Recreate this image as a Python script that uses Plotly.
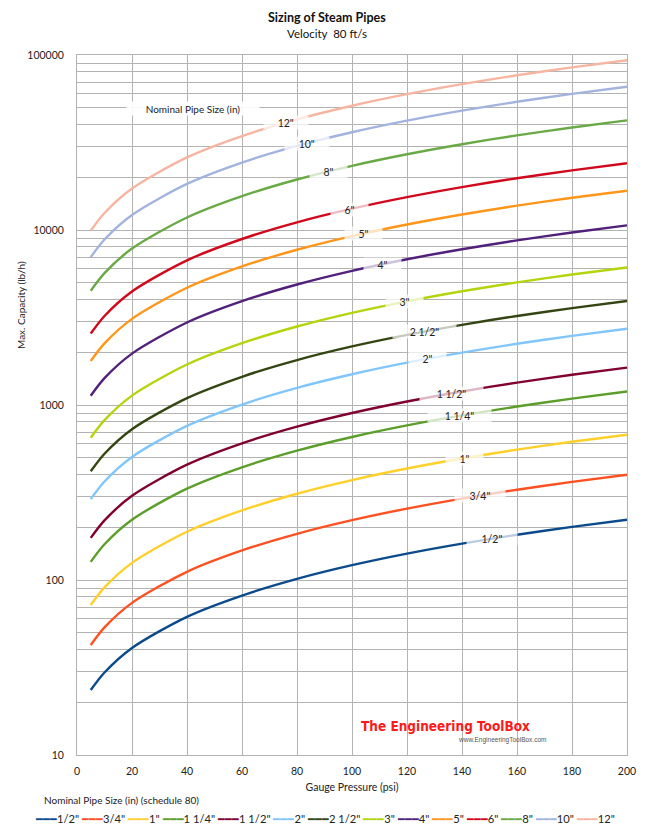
import numpy as np
import plotly.graph_objects as go

# ---------------- data ----------------
pressure = [5, 10, 20, 40, 60, 80, 100, 120, 140, 160, 180, 200]  # psi gauge

sizes = ['1/2"', '3/4"', '1"', '1 1/4"', '1 1/2"', '2"', '2 1/2"', '3"',
         '4"', '5"', '6"', '8"', '10"', '12"']

cap_half = [23.5, 29.6, 40.9, 61.6, 81.5, 101.5, 121.5, 141.5, 161.4, 181.4, 201.2, 220.9]
cap_3q = [42.5, 53.6, 74.0, 111.4, 147.5, 183.6, 219.7, 255.9, 292.0, 328.1, 363.8, 399.5]
cap_1 = [72, 90.7, 125.3, 188.6, 249.8, 311.0, 372.2, 433.4, 494.6, 555.8, 616.3, 676.8]
cap_1q = [127, 160, 221, 332.7, 440.7, 548.6, 656.6, 764.5, 872.5, 980.4, 1087, 1194]
cap_1h = [174, 219, 302.8, 455.9, 603.8, 751.7, 899.6, 1047, 1195, 1343, 1489, 1636]
cap_2 = [290, 365.4, 504.6, 759.8, 1006, 1253, 1499, 1746, 1992, 2239, 2482, 2726]
cap_2h = [418, 526.7, 727.3, 1095, 1450, 1806, 2161, 2516, 2872, 3227, 3578, 3929]
cap_3 = [650, 819, 1131, 1703, 2256, 2808, 3361, 3913, 4466, 5018, 5564, 6110]
cap_4 = [1130, 1424, 1966, 2961, 3921, 4882, 5842, 6803, 7763, 8724, 9673, 10622]
cap_5 = [1785, 2249, 3106, 4677, 6194, 7711, 9228, 10746, 12263, 13780, 15280, 16779]
cap_6 = [2560, 3226, 4454, 6707, 8883, 11059, 13235, 15411, 17587, 19763, 21914, 24064]
cap_8 = [4500, 5670, 7830, 11790, 15615, 19440, 23265, 27090, 30915, 34740, 38520, 42300]
cap_10 = [7000, 8820, 12180, 18340, 24290, 30240, 36190, 42140, 48090, 54040, 59920, 65800]
cap_12 = [9920, 12500, 17261, 25990, 34422, 42854, 51286, 59718, 68150, 76582, 84915, 93248]

capacities = [cap_half, cap_3q, cap_1, cap_1q, cap_1h, cap_2, cap_2h, cap_3,
              cap_4, cap_5, cap_6, cap_8, cap_10, cap_12]

# pressure at which the in-line size label sits
label_x = [151, 146.5, 141, 139, 136, 127.6, 126.5, 119, 111, 104, 99, 91.6, 83.6, 76]

colors = ['#0b4a8b', '#ff5022', '#ffcf2a', '#5b9e2a', '#800030', '#80c6fa',
          '#344512', '#b4d40e', '#50207a', '#ff961a', '#d0091d', '#6aaa46',
          '#a2b3de', '#f6b5a0']

FONT = 'Lato, Open Sans, sans-serif'
W, H = 647, 834
ML, MR, MT, MB = 77, 20, 55, 79


def px_x(x):
    return (x - ML) / (W - ML - MR)


def px_y(y):
    return (H - MB - y) / (H - MT - MB)


fig = go.Figure()
for name, cap, col in zip(sizes, capacities, colors):
    fig.add_trace(go.Scatter(x=pressure, y=cap, mode='lines', name=name,
                             line=dict(color=col, width=2.4, shape='spline',
                                       smoothing=0.8),
                             showlegend=False))

# in-line labels
for name, cap, lx in zip(sizes, capacities, label_x):
    ly = np.interp(lx, pressure, np.log10(cap))
    w = 24 + 6.5 * len(name)
    fig.add_annotation(x=lx, y=ly, xref='x', yref='y', text=name,
                       xanchor='center', yanchor='middle',
                       showarrow=False, bgcolor='rgba(255,255,255,0.72)',
                       width=w, height=13, borderpad=0,
                       font=dict(family=FONT, size=10.5, color='#222'))


def paper_text(x, y, text, size, color='#222', xanchor='center', **kw):
    fig.add_annotation(x=px_x(x), y=px_y(y), xref='paper', yref='paper',
                       xanchor=xanchor, yanchor='middle', text=text,
                       showarrow=False,
                       font=dict(family=kw.pop('family', FONT), size=size,
                                 color=color), **kw)


paper_text(193, 108, 'Nominal Pipe Size (in)', 10,
           bgcolor='rgba(255,255,255,0.9)', width=132, height=13, borderpad=0)

# titles
paper_text(W / 2 + 3, 17, '<b>Sizing of Steam Pipes</b>', 12.5, color='#111')
paper_text(W / 2 + 3, 33, 'Velocity  80 ft/s', 11.5, color='#111')

# y-axis title
paper_text(21, 305, 'Max. Capacity (lb/h)', 10, textangle=-90)

# custom legend
paper_text(42, 800, 'Nominal Pipe Size (in) (schedule 80)', 10, xanchor='left')
leg = ''.join(
    f"<span style='color:{c}'>━━━</span>{n} " for n, c in zip(sizes, colors))
paper_text(33, 818, leg.strip(), 11.2, xanchor='left')

# watermark
paper_text(445, 726, '<b>The Engineering ToolBox</b>', 13.5, color='#ff1a1a',
           family='Liberation Sans Narrow, DejaVu Sans Condensed, sans-serif')
paper_text(502, 740, 'www.EngineeringToolBox.com', 6.5, color='#555',
           family='Liberation Sans, sans-serif')

GRID = '#b3b3b3'
fig.update_layout(
    width=W, height=H, margin=dict(l=ML, r=MR, t=MT, b=MB),
    paper_bgcolor='white', plot_bgcolor='white',
    font=dict(family=FONT, size=10.5, color='#222'),
    xaxis=dict(range=[0, 200], dtick=20, showgrid=True, gridcolor=GRID,
               gridwidth=1, showline=True, linecolor=GRID, mirror=True,
               zeroline=False, ticks='', ticklabelstandoff=6,
               title=dict(text='Gauge Pressure (psi)', standoff=8,
                          font=dict(family=FONT, size=10.5))),
    yaxis=dict(type='log', range=[1, 5], dtick=1, showgrid=True,
               gridcolor=GRID, gridwidth=1, showline=True, linecolor=GRID,
               mirror=True, zeroline=False, ticks='', ticklabelstandoff=10,
               tickformat='d',
               minor=dict(dtick='D1', showgrid=True, gridcolor=GRID,
                          gridwidth=1, ticks='')),
)

fig.write_html('out.html')
